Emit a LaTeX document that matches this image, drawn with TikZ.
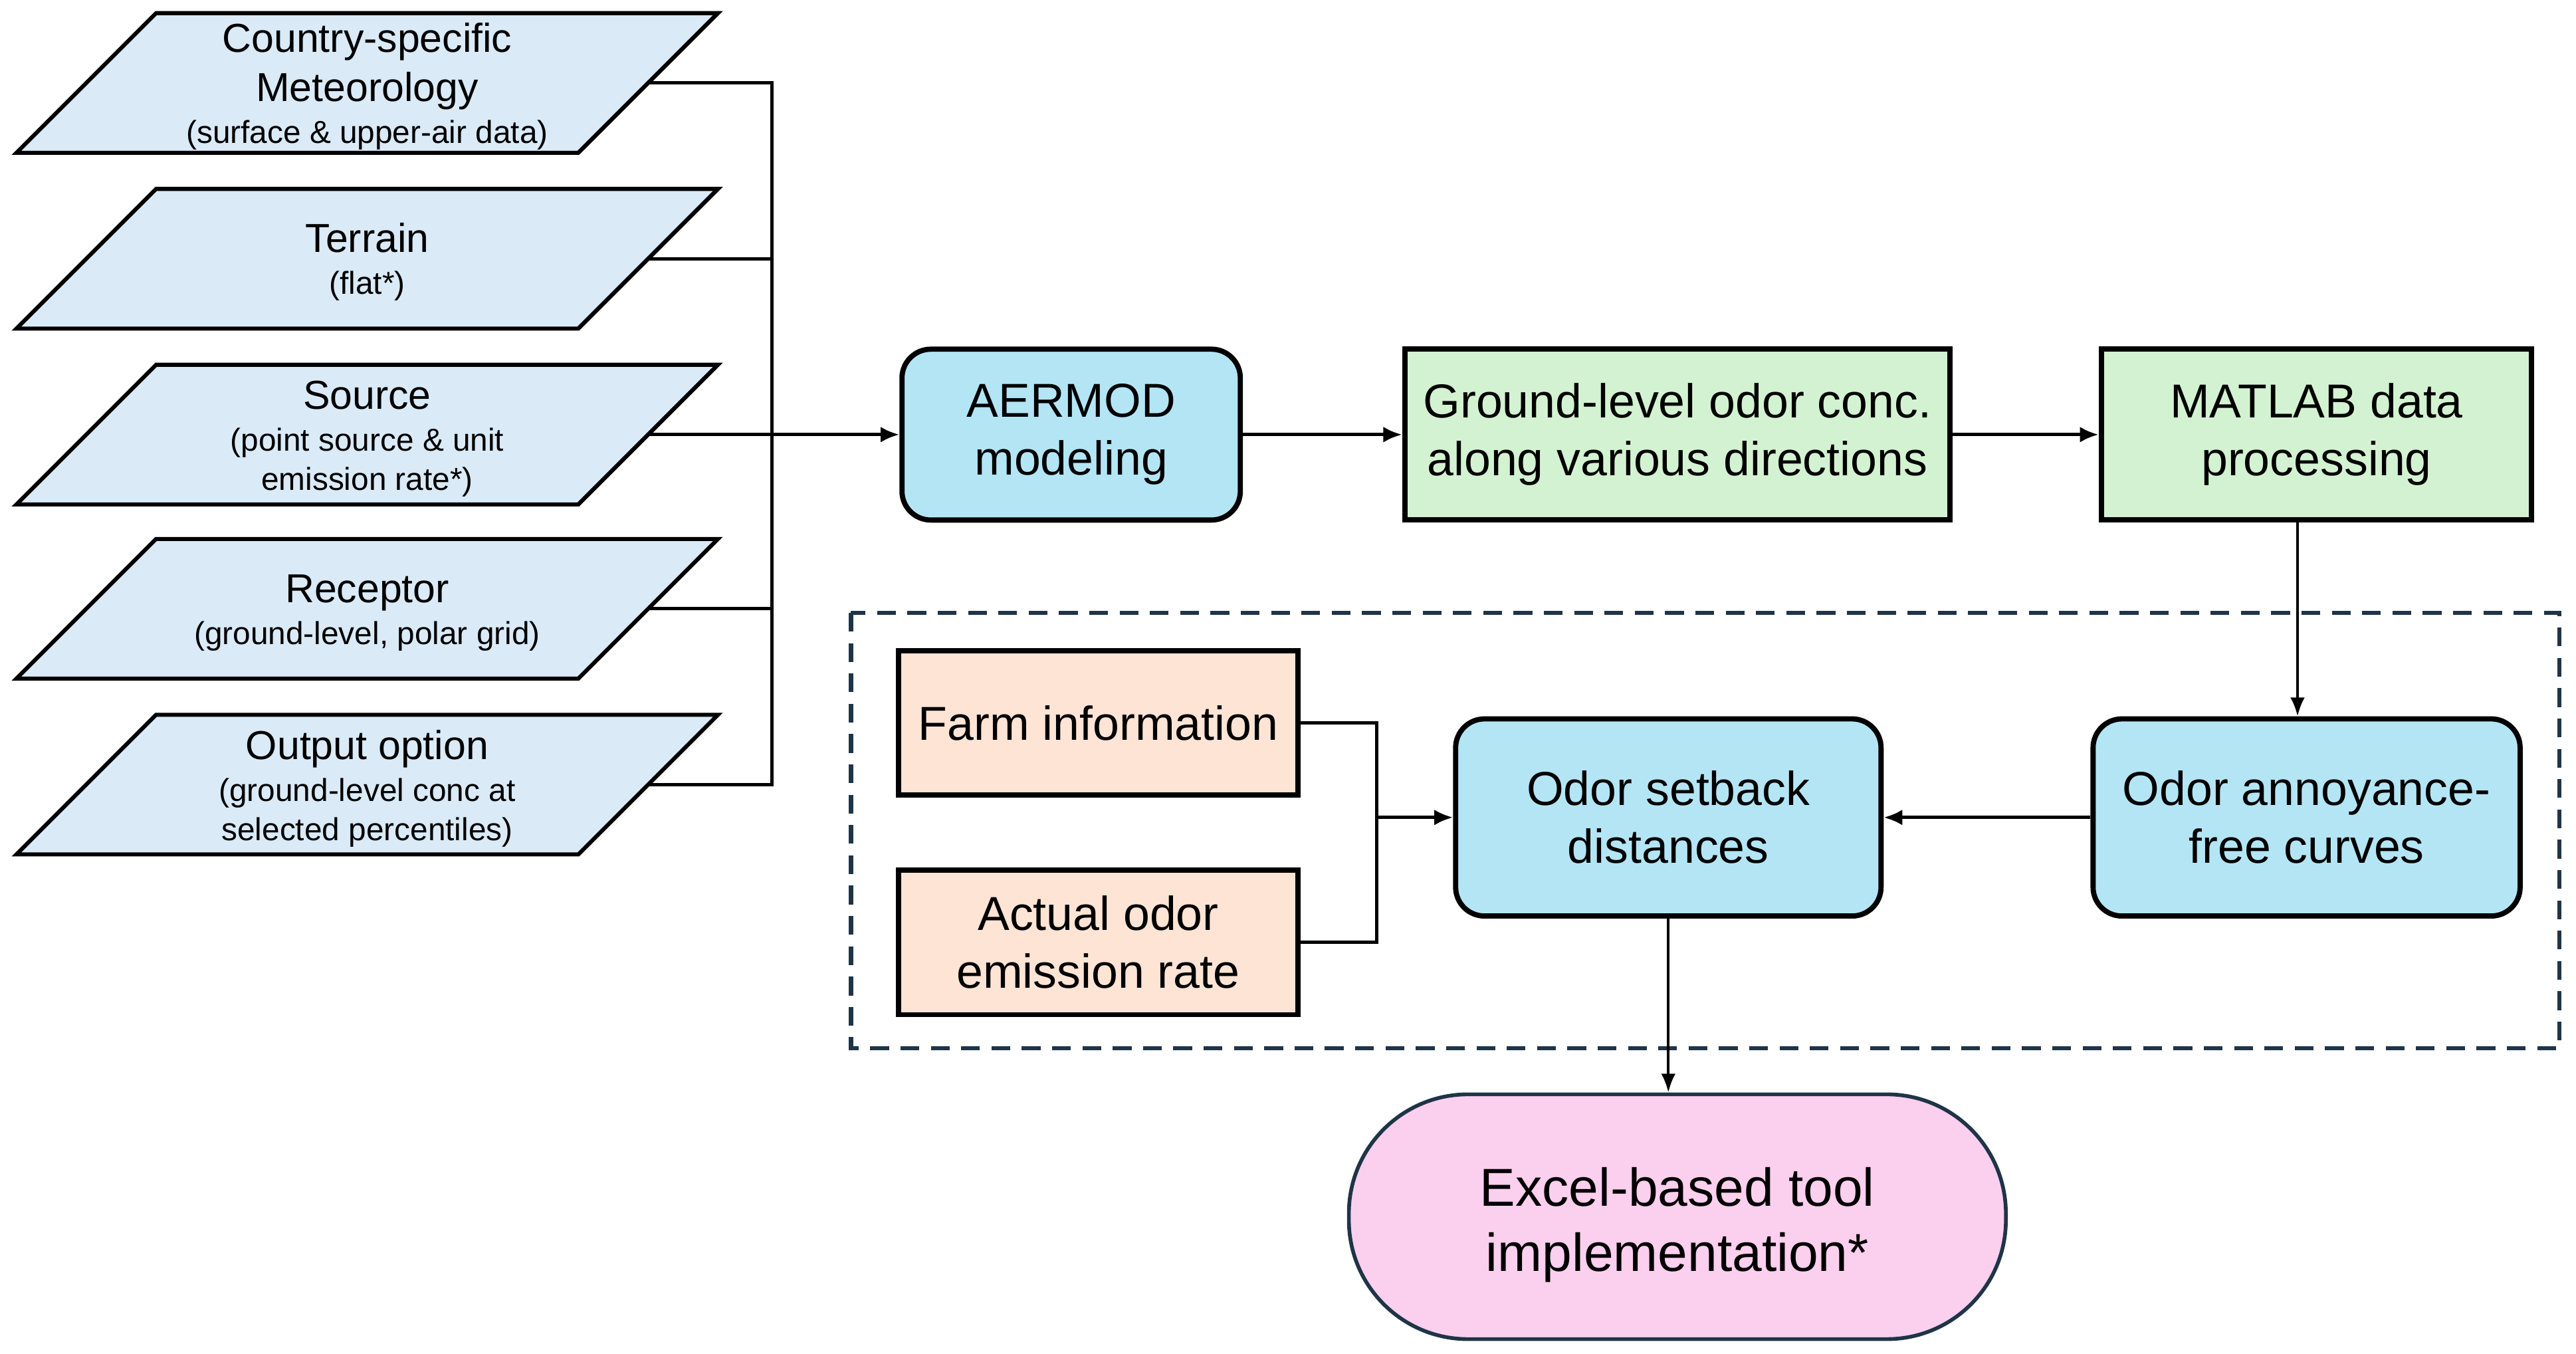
\documentclass[tikz,border=0pt]{standalone}
\usepackage{fontspec}
\setmainfont{Liberation Sans}
\usetikzlibrary{arrows.meta,calc}
\definecolor{parafill}{HTML}{DAEAF7}
\definecolor{cyanfill}{HTML}{B4E5F5}
\definecolor{greenfill}{HTML}{D3F2D1}
\definecolor{peachfill}{HTML}{FDE4D5}
\definecolor{pinkfill}{HTML}{FBCFEE}
\definecolor{navy}{HTML}{1F3447}
\newcommand{\mainsz}{\fontsize{14}{13.5}\selectfont}
\newcommand{\subsz}{\fontsize{11}{13.5}\selectfont}
\begin{document}
\begin{tikzpicture}[x=0.02cm,y=-0.02cm,
  para/.style={draw=black,line width=1.4pt,fill=parafill},
  ptext/.style={align=center,inner sep=0pt,font=\fontsize{11}{13.5}\selectfont},
  box/.style={draw=black,line width=1.8pt,align=center,inner sep=0pt,font=\fontsize{16.5}{20}\selectfont},
  rbox/.style={box,rounded corners=10pt,fill=cyanfill},
  gbox/.style={box,fill=greenfill},
  pbox/.style={box,fill=peachfill,minimum width=4.86cm,minimum height=1.76cm},
  conn/.style={line width=1.2pt},
  arr/.style={conn,-{Latex[length=6.5pt,width=5.5pt]}},
  thinarr/.style={line width=0.9pt,-{Latex[length=6.5pt,width=5pt]}},
]
\useasboundingbox (0,0) rectangle (1568,824);

% input parallelograms
\draw[para] (95,8) -- (437,8) -- (352,93) -- (10,93) -- cycle;
\draw[para] (95,115) -- (437,115) -- (352,200) -- (10,200) -- cycle;
\draw[para] (95,222) -- (437,222) -- (352,307) -- (10,307) -- cycle;
\draw[para] (95,328) -- (437,328) -- (352,413) -- (10,413) -- cycle;
\draw[para] (95,435) -- (437,435) -- (352,520) -- (10,520) -- cycle;

\node[ptext] (met) at (223.5,52.5) {\mainsz Country-specific\\[3.5pt]\mainsz Meteorology\\[1pt]\subsz (surface \& upper-air data)};
\node[ptext] (ter) at (223.5,159.5) {\mainsz Terrain\\[1pt]\subsz (flat*)};
\node[ptext] (src) at (223.5,267) {\mainsz Source\\[1pt]\subsz (point source \& unit\\\subsz emission rate*)};
\node[ptext] (rec) at (223.5,373) {\mainsz Receptor\\[1pt]\subsz (ground-level, polar grid)};
\node[ptext] (out) at (223.5,480) {\mainsz Output option\\[1pt]\subsz (ground-level conc at\\\subsz selected percentiles)};

\coordinate (p1r) at (394.5,50.5);
\coordinate (p2r) at (394.5,157.5);
\coordinate (p3r) at (394.5,264.5);
\coordinate (p4r) at (394.5,370.5);
\coordinate (p5r) at (394.5,477.5);
\coordinate (jt) at (470,50.5);
\coordinate (jb) at (470,477.5);

% top row
\node[rbox,minimum width=4.12cm,minimum height=2.08cm] (aermod) at (652,264.5) {AERMOD\\modeling};
\node[gbox,minimum width=6.64cm,minimum height=2.08cm] (ground) at (1021,264.5) {Ground-level odor conc.\\along various directions};
\node[gbox,minimum width=5.24cm,minimum height=2.08cm] (matlab) at (1410,264.5) {MATLAB data\\processing};

% dashed group
\draw[navy,line width=1.4pt,dash pattern=on 6.5pt off 4pt] (518,373) rectangle (1558,638);

\node[pbox] (farm) at (668.5,440) {Farm information};
\node[pbox] (actual) at (668.5,573.5) {Actual odor\\emission rate};
\node[rbox,minimum width=5.18cm,minimum height=2.4cm] (setback) at (1015.5,497.5) {Odor setback\\distances};
\node[rbox,minimum width=5.2cm,minimum height=2.4cm] (annoy) at (1404,497.5) {Odor annoyance-\\free curves};

\node[draw=navy,line width=1.3pt,fill=pinkfill,rounded corners=1.45cm,minimum width=8cm,minimum height=2.98cm,align=center,inner sep=0pt,font=\fontsize{18.5}{22.5}\selectfont] (excel) at (1021,740.5) {\rule{0pt}{19pt}Excel-based tool\\implementation*};

\coordinate (mx) at (1398.5,0);
\coordinate (fj) at (838,440);
\coordinate (aj) at (838,573.5);

% connectors
\draw[conn] (p1r) -- (jt) -- (jb) -- (p5r);
\draw[conn] (p2r) -- (p2r -| jt);
\draw[conn] (p4r) -- (p4r -| jt);
\draw[arr] (p3r) -- (aermod.west);
\draw[arr] (aermod.east) -- (ground.west);
\draw[arr] (ground.east) -- (matlab.west);
\draw[thinarr] (matlab.south -| mx) -- (annoy.north -| mx);
\draw[arr] (annoy.west) -- (setback.east);
\draw[conn] (farm.east) -- (fj) -- (aj) -- (actual.east);
\draw[arr] (fj |- setback.west) -- (setback.west);
\draw[thinarr] (setback.south) -- (setback.south |- excel.north);
\end{tikzpicture}
\end{document}
